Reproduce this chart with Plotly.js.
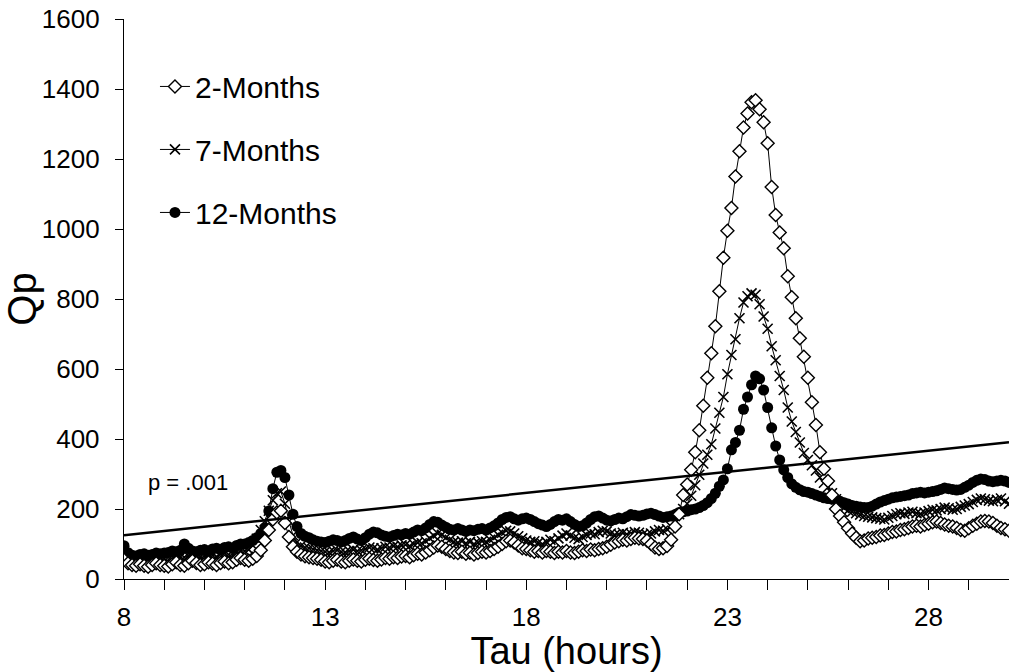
<!DOCTYPE html>
<html>
<head>
<meta charset="utf-8">
<script src="https://cdn.plot.ly/plotly-3.0.1.min.js"></script>
<style>html,body{margin:0;padding:0;background:#fff;}#chart{width:1009px;height:672px;}</style>
</head>
<body>
<div id="chart"></div>
<script>
// Tau grid: 8.0 to 30.0 hours, 0.1 h steps
var tauStart = 8.0, tauStep = 0.1, nPoints = 221;
var tau = [];
for (var i = 0; i < nPoints; i++) tau.push(Math.round((tauStart + i * tauStep) * 10) / 10);

var seriesNames = ["2-Months", "7-Months", "12-Months"];

var months2 = [
 55, 45, 40, 38, 42, 38, 35, 40, 45, 40,
 38, 36, 42, 48, 40, 38, 45, 52, 46, 40,
 42, 48, 44, 40, 46, 50, 45, 48, 55, 60,
 55, 52, 58, 66, 82, 110, 140, 170, 190, 195,
 160, 120, 92, 78, 70, 65, 62, 60, 58, 55,
 50, 48, 52, 55, 50, 48, 52, 56, 52, 50,
 55, 58, 54, 52, 56, 60, 58, 62, 60, 64,
 66, 62, 68, 72, 70, 76, 82, 90, 96, 92,
 86, 80, 76, 74, 78, 72, 75, 70, 74, 78,
 76, 80, 86, 92, 100, 108, 110, 104, 96, 88,
 86, 82, 78, 80, 76, 80, 78, 74, 78, 76,
 80, 76, 74, 78, 82, 80, 84, 82, 86, 88,
 92, 98, 104, 108, 112, 110, 114, 118, 116, 114,
 110, 100, 90, 86, 88, 94, 112, 150, 185, 240,
 270, 312, 362, 425, 495, 575, 645, 722, 822, 918,
 995, 1060, 1150, 1222, 1290, 1330, 1362, 1368, 1342, 1305,
 1245, 1120, 1040, 990, 945, 865, 805, 745, 688, 635,
 575, 505, 440, 362, 315, 280, 240, 200, 180, 162,
 145, 130, 118, 108, 110, 116, 118, 120, 124, 126,
 130, 134, 136, 140, 142, 146, 150, 152, 150, 154,
 158, 162, 164, 160, 156, 152, 150, 146, 140, 138,
 145, 152, 158, 164, 166, 164, 160, 152, 146, 142,
 138
];

var months7 = [
 80, 68, 62, 60, 64, 60, 58, 62, 66, 62,
 60, 62, 66, 70, 64, 62, 66, 70, 68, 64,
 66, 70, 68, 64, 70, 74, 70, 72, 78, 82,
 80, 84, 96, 115, 140, 165, 195, 225, 245, 250,
 215, 165, 125, 105, 95, 90, 88, 85, 82, 80,
 78, 76, 80, 82, 78, 76, 80, 84, 80, 82,
 86, 90, 88, 84, 88, 92, 90, 94, 92, 96,
 98, 94, 100, 104, 102, 108, 116, 124, 130, 126,
 118, 112, 106, 104, 108, 102, 106, 100, 104, 108,
 106, 112, 118, 126, 132, 138, 136, 130, 122, 116,
 110, 106, 108, 104, 100, 106, 112, 108, 116, 124,
 130, 124, 118, 114, 120, 126, 130, 128, 134, 138,
 136, 130, 126, 128, 132, 128, 130, 134, 132, 128,
 126, 130, 136, 140, 138, 142, 150, 160, 185, 200,
 215, 238, 268, 298, 330, 355, 385, 430, 475, 520,
 585, 640, 685, 745, 790, 808, 816, 812, 785, 750,
 715, 665, 625, 580, 540, 490, 450, 420, 390, 360,
 340, 325, 310, 290, 275, 262, 245, 228, 212, 203,
 196, 192, 188, 184, 180, 178, 176, 174, 172, 170,
 175, 180, 185, 188, 186, 190, 192, 188, 186, 190,
 194, 198, 196, 200, 204, 202, 198, 200, 206, 210,
 214, 220, 226, 230, 228, 224, 222, 226, 230, 222,
 215
];

var months12 = [
 95, 75, 68, 66, 70, 72, 68, 70, 74, 72,
 74, 76, 80, 78, 82, 100, 88, 80, 78, 82,
 84, 80, 86, 88, 84, 90, 92, 88, 96, 100,
 100, 104, 110, 118, 130, 146, 194, 258, 305, 310,
 290, 240, 185, 150, 130, 122, 118, 112, 108, 106,
 104, 108, 112, 110, 106, 110, 116, 120, 114, 110,
 118, 128, 134, 132, 126, 122, 120, 124, 128, 126,
 130, 128, 134, 140, 138, 146, 156, 164, 162, 154,
 148, 142, 140, 144, 140, 136, 140, 138, 142, 144,
 140, 146, 152, 160, 170, 176, 178, 172, 168, 172,
 174, 170, 164, 158, 154, 150, 156, 164, 170, 168,
 172, 164, 156, 150, 152, 160, 170, 178, 180, 174,
 168, 166, 170, 174, 172, 178, 184, 182, 180, 182,
 186, 188, 184, 180, 176, 178, 180, 184, 190, 192,
 194, 198, 200, 204, 210, 218, 230, 245, 265, 283,
 315, 369, 390, 425, 485, 520, 555, 580, 572, 540,
 490, 432, 380, 340, 312, 290, 272, 262, 255, 250,
 248, 244, 240, 236, 232, 230, 228, 226, 222, 218,
 214, 210, 208, 206, 204, 204, 208, 214, 220, 224,
 228, 232, 234, 236, 238, 240, 244, 246, 248, 246,
 248, 250, 252, 256, 260, 258, 256, 254, 256, 262,
 268, 276, 282, 286, 284, 280, 278, 280, 282, 280,
 276
];

// Significance threshold (p = .001) endpoints
var thresholdTau = [8, 30];
var thresholdQp = [125, 391];
var thresholdLabel = "p = .001";

var yTicks = [0, 200, 400, 600, 800, 1000, 1200, 1400, 1600];
var xTickVals = [];
for (var t = 8; t <= 30; t++) xTickVals.push(t);
var xLabeled = [8, 13, 18, 23, 28];
var xTickText = xTickVals.map(function (v) { return xLabeled.indexOf(v) >= 0 ? String(v) : ""; });

var FONT = "Liberation Sans, Arial, sans-serif";

var traces = [
  {
    x: tau, y: months12, name: seriesNames[2], type: "scatter", mode: "lines+markers",
    legendgroup: "g3", legendrank: 3,
    line: {color: "#000", width: 1},
    marker: {symbol: "circle", size: 11, color: "#000", line: {color: "#000", width: 0}}
  },
  {
    x: tau, y: months7, name: seriesNames[1], type: "scatter", mode: "lines+markers",
    legendgroup: "g2", legendrank: 2,
    line: {color: "#000", width: 1},
    marker: {symbol: "x-thin", size: 10, color: "#000", line: {color: "#000", width: 1.6}}
  },
  {
    x: tau, y: months2, name: seriesNames[0], type: "scatter", mode: "lines+markers",
    legendgroup: "g1", legendrank: 1,
    line: {color: "#000", width: 1},
    marker: {symbol: "diamond", size: 10, color: "#fff", line: {color: "#000", width: 1.4}}
  },
  {
    x: thresholdTau, y: thresholdQp, type: "scatter", mode: "lines", showlegend: false,
    line: {color: "#000", width: 2.5}, hoverinfo: "skip"
  }
];

var layout = {
  width: 1009, height: 672,
  margin: {l: 124, r: 0, t: 19, b: 93},
  paper_bgcolor: "#fff", plot_bgcolor: "#fff",
  font: {family: FONT, color: "#000"},
  showlegend: true,
  legend: {
    x: 0.035, y: 0.926, xanchor: "left", yanchor: "top",
    bgcolor: "rgba(0,0,0,0)", borderwidth: 0,
    font: {family: FONT, size: 30, color: "#000"},
    tracegroupgap: 21, traceorder: "grouped"
  },
  xaxis: {
    range: [8, 30], tickmode: "array", tickvals: xTickVals, ticktext: xTickText,
    ticks: "outside", ticklen: 10, tickwidth: 1, tickcolor: "#000",
    showline: true, linecolor: "#000", linewidth: 1.2, showgrid: false, zeroline: false,
    tickfont: {family: FONT, size: 26, color: "#000"},
    ticklabelstandoff: 5,
    title: {text: "Tau (hours)", font: {family: FONT, size: 38, color: "#000"}, standoff: 7}
  },
  yaxis: {
    range: [0, 1600], tickmode: "array", tickvals: yTicks,
    ticks: "outside", ticklen: 8, tickwidth: 1, tickcolor: "#000",
    showline: true, linecolor: "#000", linewidth: 1.2, showgrid: false, zeroline: false,
    tickfont: {family: FONT, size: 26, color: "#000"},
    ticklabelstandoff: 10,
    title: {text: "Qp", font: {family: FONT, size: 40, color: "#000"}, standoff: 6}
  },
  annotations: [{
    x: 8.55, y: 275, xref: "x", yref: "y", xanchor: "left", yanchor: "middle",
    text: thresholdLabel, showarrow: false,
    font: {family: FONT, size: 22, color: "#000"}
  }]
};

Plotly.newPlot("chart", traces, layout, {displayModeBar: false, staticPlot: true});
</script>
</body>
</html>
